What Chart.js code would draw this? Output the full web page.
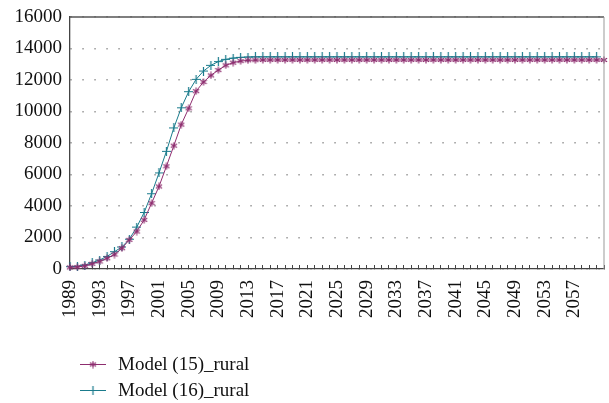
<!DOCTYPE html>
<html><head><meta charset="utf-8">
<script src="https://cdn.jsdelivr.net/npm/chart.js@4"></script>
<style>
html,body{margin:0;padding:0;background:#fff;}
#wrap{position:relative;width:609px;height:403px;}
#c{position:absolute;left:0;top:0;}
#legend{position:absolute;left:80px;top:351px;font-family:"Liberation Serif",serif;font-size:19px;color:#111;}
.row{display:flex;align-items:center;height:26px;}
.row canvas{margin-right:12px;}
</style></head><body>
<div id="wrap"><canvas id="c" width="609" height="403"></canvas><div id="legend"></div></div>
<script>
const years = [1989,1990,1991,1992,1993,1994,1995,1996,1997,1998,1999,2000,2001,2002,2003,2004,2005,2006,2007,2008,2009,2010,2011,2012,2013,2014,2015,2016,2017,2018,2019,2020,2021,2022,2023,2024,2025,2026,2027,2028,2029,2030,2031,2032,2033,2034,2035,2036,2037,2038,2039,2040,2041,2042,2043,2044,2045,2046,2047,2048,2049,2050,2051,2052,2053,2054,2055,2056,2057,2058,2059,2060,2061];
const model15 = [100,130,200,330,480,680,920,1320,1850,2380,3120,4180,5240,6520,7830,9170,10200,11290,11870,12290,12630,12930,13100,13200,13250,13260,
13270,13270,13270,13270,13270,13270,13270,13270,13270,13270,13270,13270,13270,13270,13270,13270,13270,13270,13270,13270,13270,13270,13270,13270,13270,13270,13270,13270,13270,13270,13270,13270,13270,13270,13270,13270,13270,13270,13270,13270,13270,13270,13270,13270,13270,13270,13270];
const model16 = [150,170,250,400,570,800,1100,1400,1890,2660,3590,4780,6100,7470,8960,10235,11260,12040,12570,12930,13170,13310,13390,13440,13460,
13470,13470,13470,13470,13470,13470,13470,13470,13470,13470,13470,13470,13470,13470,13470,13470,13470,13470,13470,13470,13470,13470,13470,13470,13470,13470,13470,13470,13470,13470,13470,13470,13470,13470,13470,13470,13470,13470,13470,13470,13470,13470,13470,13470,13470,13470,13470];
const seriesNames = ["Model (15)_rural","Model (16)_rural"];
const yTicks = {min:0, max:16000, step:2000};

const MAG = "#8e2d6f", TEAL = "#1a7b8c";
const FONT = '"Liberation Serif", serif';

function mk(w, draw){const c=document.createElement('canvas');c.width=w;c.height=w;draw(c.getContext('2d'),w);return c;}
const plusImg = mk(9,(x,w)=>{x.strokeStyle=TEAL;x.lineWidth=1.2;x.beginPath();x.moveTo(0,4.5);x.lineTo(9,4.5);x.moveTo(4.5,0);x.lineTo(4.5,9);x.stroke();});
const astImg = mk(8,(x,w)=>{x.strokeStyle=MAG;x.lineWidth=1.2;x.beginPath();const r=3.6,c=4;
  for(const a of [90,30,150]){const t=a*Math.PI/180;x.moveTo(c-r*Math.cos(t),c-r*Math.sin(t));x.lineTo(c+r*Math.cos(t),c+r*Math.sin(t));}x.stroke();});

const frame = {id:'frame', afterDatasetsDraw(chart){const {ctx,chartArea:a}=chart;ctx.save();
  ctx.lineWidth=1.3;ctx.strokeStyle='#555';ctx.beginPath();ctx.moveTo(a.left,a.top);ctx.lineTo(a.right,a.top);ctx.stroke();
  ctx.lineWidth=1;ctx.strokeStyle='#999';ctx.beginPath();ctx.moveTo(a.right,a.top);ctx.lineTo(a.right,a.bottom);ctx.stroke();ctx.restore();}};

const chart = new Chart(document.getElementById('c'), {
  type:'line',
  data:{labels:years, datasets:[
    {label:seriesNames[0], data:model15, borderColor:MAG, backgroundColor:MAG, borderWidth:1, pointStyle:astImg, pointRadius:4, tension:0, clip:false},
    {label:seriesNames[1], data:model16, borderColor:TEAL, backgroundColor:TEAL, borderWidth:1, pointStyle:plusImg, pointRadius:4, tension:0, clip:false}
  ]},
  options:{
    responsive:false, animation:false, devicePixelRatio:1,
    layout:{padding:{top:17,right:1,left:0,bottom:0}},
    plugins:{legend:{display:false}, tooltip:{enabled:false}},
    scales:{
      x:{type:'category', offset:false,
        afterFit(s){s.height=134; s.paddingLeft=0; s.paddingRight=0;},
        grid:{drawOnChartArea:false, drawTicks:true, tickLength:-4, color:'#444', lineWidth:1},
        border:{color:'#444', width:1.3},
        ticks:{autoSkip:false, minRotation:90, maxRotation:90, padding:15, color:'#111', font:{family:FONT,size:19},
          callback(v,i){return (i%4===0 && i<years.length-1) ? String(years[i]) : '';}}
      },
      y:{min:yTicks.min, max:yTicks.max,
        afterFit(s){s.width=70; s.paddingTop=0; s.paddingBottom=0;},
        grid:{drawTicks:false, color:'#999', lineWidth:1.5},
        border:{color:'#444', width:1.3, dash:[1.5,10.5]},
        ticks:{stepSize:yTicks.step, padding:8, color:'#111', font:{family:FONT,size:19},
          callback(v){return String(v);}}
      }
    }
  },
  plugins:[frame]
});

// HTML legend built from datasets
const lg = document.getElementById('legend');
chart.data.datasets.forEach(ds=>{
  const row=document.createElement('div');row.className='row';
  const c=document.createElement('canvas');c.width=26;c.height=12;const x=c.getContext('2d');
  x.strokeStyle=ds.borderColor;x.lineWidth=1;x.beginPath();x.moveTo(0,6.5);x.lineTo(26,6.5);x.stroke();
  const img=ds.pointStyle;x.drawImage(img,13-img.width/2,6.5-img.height/2);
  const s=document.createElement('span');s.textContent=ds.label;
  row.appendChild(c);row.appendChild(s);lg.appendChild(row);
});
</script>
</body></html>
